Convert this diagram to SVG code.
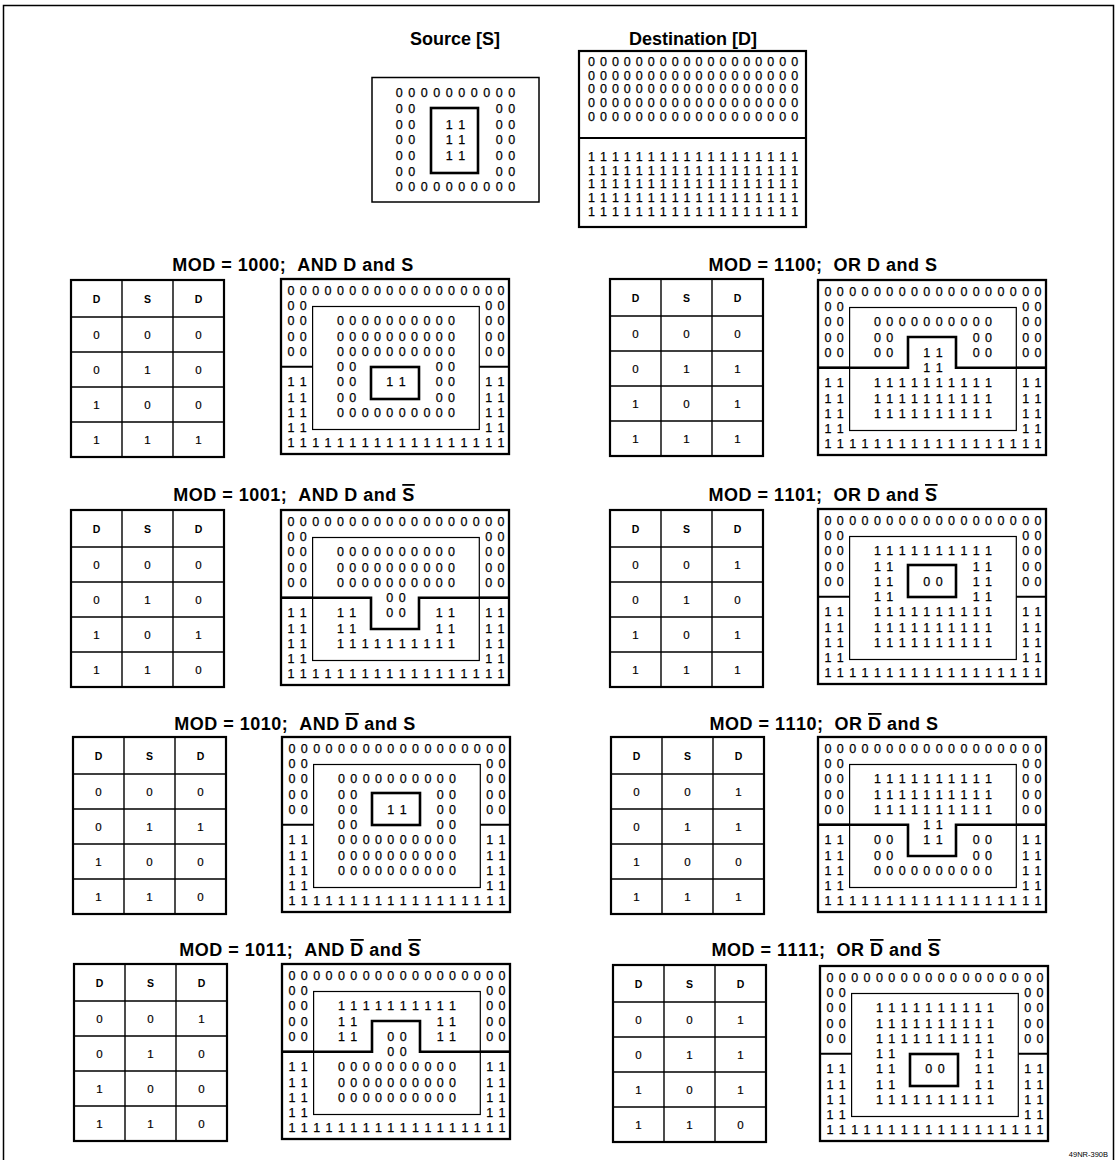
<svg xmlns="http://www.w3.org/2000/svg" width="1117" height="1160" viewBox="0 0 1117 1160">
<style>
text{font-family:"Liberation Sans",Arial,Helvetica,sans-serif;fill:#000;font-kerning:none;font-feature-settings:"kern" 0}
.t{font-weight:bold;font-size:18px;text-anchor:middle}
.m{font-weight:bold;font-size:18px;letter-spacing:0.5px;text-anchor:middle}
.o{text-decoration:overline}
.g{font-size:12.5px;letter-spacing:5.4px;stroke:#000;stroke-width:0.25}
.s{font-size:12.5px;letter-spacing:5.54px;stroke:#000;stroke-width:0.25}
.d{font-size:12.5px;letter-spacing:5px;stroke:#000;stroke-width:0.25}
.th{font-weight:bold;font-size:10.5px;text-anchor:middle}
.tv{font-size:11.5px;text-anchor:middle;stroke:#000;stroke-width:0.2}
.lab{font-size:7.5px;text-anchor:end}
.ln{fill:none;stroke:#000}
.gb{stroke-width:2.3}
.thin{stroke-width:1.2}
.thick{stroke-width:2.6}
.div{stroke-width:2.2}
.tb{stroke-width:2.2}
.tl{stroke-width:1.4}
.fr{stroke-width:1.5}
</style>
<defs>
<g id="gbase">
<rect class="ln gb" x="0" y="0" width="228" height="175"/>
<rect class="ln thin" x="31.6" y="27.5" width="166.7" height="123"/>
<path class="ln div" d="M0,87.75H31.6M198.3,87.75H228"/>
<text class="g" x="6.53" y="15.8">000000000000000000</text>
<text class="g" x="6.53" y="31.05">00</text><text class="g" x="204.13" y="31.05">00</text>
<text class="g" x="6.53" y="46.3">00</text><text class="g" x="204.13" y="46.3">00</text>
<text class="g" x="6.53" y="61.55">00</text><text class="g" x="204.13" y="61.55">00</text>
<text class="g" x="6.53" y="76.8">00</text><text class="g" x="204.13" y="76.8">00</text>
<text class="g" x="6.53" y="107.3">11</text><text class="g" x="204.13" y="107.3">11</text>
<text class="g" x="6.53" y="122.55">11</text><text class="g" x="204.13" y="122.55">11</text>
<text class="g" x="6.53" y="137.8">11</text><text class="g" x="204.13" y="137.8">11</text>
<text class="g" x="6.53" y="153.05">11</text><text class="g" x="204.13" y="153.05">11</text>
<text class="g" x="6.53" y="168.3">111111111111111111</text>
</g>
<g id="tbase">
<rect class="ln tb" x="0" y="0" width="153" height="177"/>
<path class="ln tl" d="M51,0V177M102,0V177M0,37H153M0,72H153M0,107H153M0,142H153"/>
<text class="th" x="25.5" y="22.5">D</text><text class="th" x="76.5" y="22.5">S</text><text class="th" x="127.5" y="22.5">D</text>
<text class="tv" x="25.5" y="58.5">0</text><text class="tv" x="76.5" y="58.5">0</text>
<text class="tv" x="25.5" y="93.5">0</text><text class="tv" x="76.5" y="93.5">1</text>
<text class="tv" x="25.5" y="128.5">1</text><text class="tv" x="76.5" y="128.5">0</text>
<text class="tv" x="25.5" y="163.5">1</text><text class="tv" x="76.5" y="163.5">1</text>
</g>
</defs>
<rect width="1117" height="1160" fill="#fff"/>
<path class="ln fr" d="M3.5,1160V5.5H1113.5V1160"/>
<text class="lab" x="1108" y="1157">49NR-390B</text>

<g id="source">
<text class="t" x="455" y="45">Source [S]</text>
<rect class="ln" stroke-width="1.5" x="372" y="77.5" width="167" height="124.5"/>
<rect class="ln thick" x="431" y="108" width="47" height="65"/>
<text class="s" x="395.8" y="97.3">0000000000</text>
<text class="s" x="395.8" y="113">00</text><text class="s" x="495.7" y="113">00</text>
<text class="s" x="395.8" y="128.6">00</text><text class="s" x="445.8" y="128.6">11</text><text class="s" x="495.7" y="128.6">00</text>
<text class="s" x="395.8" y="144.3">00</text><text class="s" x="445.8" y="144.3">11</text><text class="s" x="495.7" y="144.3">00</text>
<text class="s" x="395.8" y="160">00</text><text class="s" x="445.8" y="160">11</text><text class="s" x="495.7" y="160">00</text>
<text class="s" x="395.8" y="175.6">00</text><text class="s" x="495.7" y="175.6">00</text>
<text class="s" x="395.8" y="191.3">0000000000</text>
</g>

<g id="destination">
<text class="t" x="693" y="45">Destination [D]</text>
<rect class="ln div" x="579" y="51" width="227" height="176"/>
<path class="ln div" d="M579,138H806"/>
<text class="d" x="588" y="66">000000000000000000</text>
<text class="d" x="588" y="79.6">000000000000000000</text>
<text class="d" x="588" y="93.3">000000000000000000</text>
<text class="d" x="588" y="106.9">000000000000000000</text>
<text class="d" x="588" y="120.6">000000000000000000</text>
<text class="d" x="588" y="161">111111111111111111</text>
<text class="d" x="588" y="174.6">111111111111111111</text>
<text class="d" x="588" y="188.3">111111111111111111</text>
<text class="d" x="588" y="201.9">111111111111111111</text>
<text class="d" x="588" y="215.6">111111111111111111</text>
</g>

<g id="mod1000">
<text class="m" x="293" y="271">MOD = 1000;&#160; AND D and S</text>
<g transform="translate(71,280)"><use href="#tbase"/>
<text class="tv" x="127.5" y="58.5">0</text><text class="tv" x="127.5" y="93.5">0</text><text class="tv" x="127.5" y="128.5">0</text><text class="tv" x="127.5" y="163.5">1</text>
</g>
<g transform="translate(281,279)"><use href="#gbase"/>
<text class="g" x="55.93" y="46.3">0000000000</text>
<text class="g" x="55.93" y="61.55">0000000000</text>
<text class="g" x="55.93" y="76.8">0000000000</text>
<text class="g" x="55.93" y="92.05">00</text><text class="g" x="154.73" y="92.05">00</text>
<text class="g" x="55.93" y="107.3">00</text><text class="g" x="105.33" y="107.3">11</text><text class="g" x="154.73" y="107.3">00</text>
<text class="g" x="55.93" y="122.55">00</text><text class="g" x="154.73" y="122.55">00</text>
<text class="g" x="55.93" y="137.8">0000000000</text>
<rect class="ln thick" x="90" y="88" width="48" height="32"/>
</g>
</g>

<g id="mod1100">
<text class="m" x="823" y="271">MOD = 1100;&#160; OR D and S</text>
<g transform="translate(610,279)"><use href="#tbase"/>
<text class="tv" x="127.5" y="58.5">0</text><text class="tv" x="127.5" y="93.5">1</text><text class="tv" x="127.5" y="128.5">1</text><text class="tv" x="127.5" y="163.5">1</text>
</g>
<g transform="translate(818,280)"><use href="#gbase"/>
<text class="g" x="55.93" y="46.3">0000000000</text>
<text class="g" x="55.93" y="61.55">00</text><text class="g" x="154.73" y="61.55">00</text>
<text class="g" x="55.93" y="76.8">00</text><text class="g" x="105.33" y="76.8">11</text><text class="g" x="154.73" y="76.8">00</text>
<text class="g" x="105.33" y="92.05">11</text>
<text class="g" x="55.93" y="107.3">1111111111</text>
<text class="g" x="55.93" y="122.55">1111111111</text>
<text class="g" x="55.93" y="137.8">1111111111</text>
<path class="ln thick" d="M0,87.75H90V57H138V87.75H228"/>
</g>
</g>

<g id="mod1001">
<text class="m" x="294" y="501">MOD = 1001;&#160; AND D and <tspan class="o">S</tspan></text>
<g transform="translate(71,510)"><use href="#tbase"/>
<text class="tv" x="127.5" y="58.5">0</text><text class="tv" x="127.5" y="93.5">0</text><text class="tv" x="127.5" y="128.5">1</text><text class="tv" x="127.5" y="163.5">0</text>
</g>
<g transform="translate(281,510)"><use href="#gbase"/>
<text class="g" x="55.93" y="46.3">0000000000</text>
<text class="g" x="55.93" y="61.55">0000000000</text>
<text class="g" x="55.93" y="76.8">0000000000</text>
<text class="g" x="105.33" y="92.05">00</text>
<text class="g" x="55.93" y="107.3">11</text><text class="g" x="105.33" y="107.3">00</text><text class="g" x="154.73" y="107.3">11</text>
<text class="g" x="55.93" y="122.55">11</text><text class="g" x="154.73" y="122.55">11</text>
<text class="g" x="55.93" y="137.8">1111111111</text>
<path class="ln thick" d="M0,87.75H90V119H138V87.75H228"/>
</g>
</g>

<g id="mod1101">
<text class="m" x="823" y="501">MOD = 1101;&#160; OR D and <tspan class="o">S</tspan></text>
<g transform="translate(610,510)"><use href="#tbase"/>
<text class="tv" x="127.5" y="58.5">1</text><text class="tv" x="127.5" y="93.5">0</text><text class="tv" x="127.5" y="128.5">1</text><text class="tv" x="127.5" y="163.5">1</text>
</g>
<g transform="translate(818,509)"><use href="#gbase"/>
<text class="g" x="55.93" y="46.3">1111111111</text>
<text class="g" x="55.93" y="61.55">11</text><text class="g" x="154.73" y="61.55">11</text>
<text class="g" x="55.93" y="76.8">11</text><text class="g" x="105.33" y="76.8">00</text><text class="g" x="154.73" y="76.8">11</text>
<text class="g" x="55.93" y="92.05">11</text><text class="g" x="154.73" y="92.05">11</text>
<text class="g" x="55.93" y="107.3">1111111111</text>
<text class="g" x="55.93" y="122.55">1111111111</text>
<text class="g" x="55.93" y="137.8">1111111111</text>
<rect class="ln thick" x="90" y="56" width="48" height="32"/>
</g>
</g>

<g id="mod1010">
<text class="m" x="295" y="730">MOD = 1010;&#160; AND <tspan class="o">D</tspan> and S</text>
<g transform="translate(73,737)"><use href="#tbase"/>
<text class="tv" x="127.5" y="58.5">0</text><text class="tv" x="127.5" y="93.5">1</text><text class="tv" x="127.5" y="128.5">0</text><text class="tv" x="127.5" y="163.5">0</text>
</g>
<g transform="translate(282,737)"><use href="#gbase"/>
<text class="g" x="55.93" y="46.3">0000000000</text>
<text class="g" x="55.93" y="61.55">00</text><text class="g" x="154.73" y="61.55">00</text>
<text class="g" x="55.93" y="76.8">00</text><text class="g" x="105.33" y="76.8">11</text><text class="g" x="154.73" y="76.8">00</text>
<text class="g" x="55.93" y="92.05">00</text><text class="g" x="154.73" y="92.05">00</text>
<text class="g" x="55.93" y="107.3">0000000000</text>
<text class="g" x="55.93" y="122.55">0000000000</text>
<text class="g" x="55.93" y="137.8">0000000000</text>
<rect class="ln thick" x="90" y="56" width="48" height="32"/>
</g>
</g>

<g id="mod1110">
<text class="m" x="824" y="730">MOD = 1110;&#160; OR <tspan class="o">D</tspan> and S</text>
<g transform="translate(611,737)"><use href="#tbase"/>
<text class="tv" x="127.5" y="58.5">1</text><text class="tv" x="127.5" y="93.5">1</text><text class="tv" x="127.5" y="128.5">0</text><text class="tv" x="127.5" y="163.5">1</text>
</g>
<g transform="translate(818,737)"><use href="#gbase"/>
<text class="g" x="55.93" y="46.3">1111111111</text>
<text class="g" x="55.93" y="61.55">1111111111</text>
<text class="g" x="55.93" y="76.8">1111111111</text>
<text class="g" x="105.33" y="92.05">11</text>
<text class="g" x="55.93" y="107.3">00</text><text class="g" x="105.33" y="107.3">11</text><text class="g" x="154.73" y="107.3">00</text>
<text class="g" x="55.93" y="122.55">00</text><text class="g" x="154.73" y="122.55">00</text>
<text class="g" x="55.93" y="137.8">0000000000</text>
<path class="ln thick" d="M0,87.75H90V119H138V87.75H228"/>
</g>
</g>

<g id="mod1011">
<text class="m" x="300" y="956">MOD = 1011;&#160; AND <tspan class="o">D</tspan> and <tspan class="o">S</tspan></text>
<g transform="translate(74,964)"><use href="#tbase"/>
<text class="tv" x="127.5" y="58.5">1</text><text class="tv" x="127.5" y="93.5">0</text><text class="tv" x="127.5" y="128.5">0</text><text class="tv" x="127.5" y="163.5">0</text>
</g>
<g transform="translate(282,964)"><use href="#gbase"/>
<text class="g" x="55.93" y="46.3">1111111111</text>
<text class="g" x="55.93" y="61.55">11</text><text class="g" x="154.73" y="61.55">11</text>
<text class="g" x="55.93" y="76.8">11</text><text class="g" x="105.33" y="76.8">00</text><text class="g" x="154.73" y="76.8">11</text>
<text class="g" x="105.33" y="92.05">00</text>
<text class="g" x="55.93" y="107.3">0000000000</text>
<text class="g" x="55.93" y="122.55">0000000000</text>
<text class="g" x="55.93" y="137.8">0000000000</text>
<path class="ln thick" d="M0,87.75H90V57H138V87.75H228"/>
</g>
</g>

<g id="mod1111">
<text class="m" x="826" y="956">MOD = 1111;&#160; OR <tspan class="o">D</tspan> and <tspan class="o">S</tspan></text>
<g transform="translate(613,965)"><use href="#tbase"/>
<text class="tv" x="127.5" y="58.5">1</text><text class="tv" x="127.5" y="93.5">1</text><text class="tv" x="127.5" y="128.5">1</text><text class="tv" x="127.5" y="163.5">0</text>
</g>
<g transform="translate(820,966)"><use href="#gbase"/>
<text class="g" x="55.93" y="46.3">1111111111</text>
<text class="g" x="55.93" y="61.55">1111111111</text>
<text class="g" x="55.93" y="76.8">1111111111</text>
<text class="g" x="55.93" y="92.05">11</text><text class="g" x="154.73" y="92.05">11</text>
<text class="g" x="55.93" y="107.3">11</text><text class="g" x="105.33" y="107.3">00</text><text class="g" x="154.73" y="107.3">11</text>
<text class="g" x="55.93" y="122.55">11</text><text class="g" x="154.73" y="122.55">11</text>
<text class="g" x="55.93" y="137.8">1111111111</text>
<rect class="ln thick" x="90" y="88" width="48" height="32"/>
</g>
</g>
</svg>
